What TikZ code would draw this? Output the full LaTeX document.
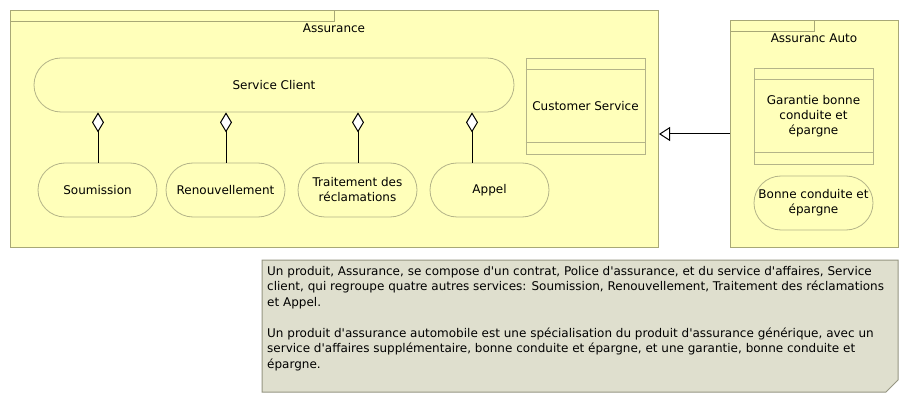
\documentclass[tikz,border=0pt]{standalone}
\usepackage{fontspec}
\setmainfont{DejaVu Sans}[Ligatures=TeXOff]
\usetikzlibrary{arrows.meta}
\definecolor{pkgfill}{RGB}{255,255,186}
\definecolor{pkgline}{RGB}{168,168,118}
\definecolor{elline}{RGB}{180,180,136}
\definecolor{notefill}{RGB}{223,223,206}
\definecolor{noteline}{RGB}{150,150,130}
\tikzset{
  pkg/.style={draw=pkgline, fill=pkgfill, line width=1pt, inner sep=0pt, anchor=north west},
  stadium/.style={draw=elline, fill=pkgfill, line width=0.8pt, rounded corners=27pt,
    minimum width=119pt, minimum height=54pt, inner sep=0pt, align=center,
    font=\fontsize{12}{15}\selectfont},
  compbox/.style={draw=elline, fill=pkgfill, line width=0.8pt,
    minimum width=119pt, minimum height=96pt, inner sep=0pt, align=center,
    font=\fontsize{12}{15}\selectfont},
  band/.style={draw=elline, line width=0.8pt},
  agg/.style={black, line width=1pt, {Diamond[length=20pt,width=12pt,fill=white,line width=1pt]}-},
  gen/.style={black, line width=1pt, -{Triangle[open,length=11pt,width=14pt,fill=white,line width=1pt]}},
  title/.style={font=\fontsize{12}{15}\selectfont, inner sep=0pt}
}
\begin{document}
\begin{tikzpicture}[x=1pt,y=-1pt]
\useasboundingbox (0,0) rectangle (909,403);
\fill[white] (0,0) rectangle (909,403);
% packages
\node[pkg, minimum width=648pt, minimum height=237pt] (assur) at (10,10) {};
\draw[pkgline, line width=1pt] (10,22) -- (334,22) -- (334,10);
\node[title] (assurt) at (334,28.5) {Assurance};
\node[pkg, minimum width=168pt, minimum height=227pt] (auto) at (730,20) {};
\draw[pkgline, line width=1pt] (730,32) -- (814,32) -- (814,20);
\node[title] (autot) at (814,38.5) {Assuranc Auto};
% elements in Assurance
\node[stadium, minimum width=480pt] (sc) at (274,85) {Service Client};
\node[stadium] (soum) at (97.5,190) {Soumission};
\node[stadium] (renou) at (225.5,190) {Renouvellement};
\node[stadium] (trait) at (357.5,190) {Traitement des\\réclamations};
\node[stadium] (appel) at (489.5,190) {Appel};
\node[compbox] (cs) at (585.5,106) {Customer Service};
\draw[band] ([yshift=-12pt]cs.north west) -- ([yshift=-12pt]cs.north east);
\draw[band] ([yshift=12pt]cs.south west) -- ([yshift=12pt]cs.south east);
% elements in Assuranc Auto
\node[compbox] (gar) at (813.5,116) {Garantie bonne\\conduite et\\épargne};
\draw[band] ([yshift=-12pt]gar.north west) -- ([yshift=-12pt]gar.north east);
\draw[band] ([yshift=12pt]gar.south west) -- ([yshift=12pt]gar.south east);
\node[stadium] (bce) at (813.5,203) {Bonne conduite et\\épargne};
% aggregations
\draw[agg] ([xshift=0.5pt]soum.north |- sc.south) -- ([xshift=0.5pt]soum.north);
\draw[agg] ([xshift=0.5pt]renou.north |- sc.south) -- ([xshift=0.5pt]renou.north);
\draw[agg] ([xshift=0.5pt]trait.north |- sc.south) -- ([xshift=0.5pt]trait.north);
\draw[agg] ([xshift=-17.5pt]appel.north |- sc.south) -- ([xshift=-17.5pt]appel.north);
% generalization
\coordinate (gy) at (0,134);
\draw[gen] (auto.west |- gy) -- (assur.east |- gy);
% note
\draw[noteline, fill=notefill, line width=1pt] (262,260) -- (898,260) -- (898,380) -- (886,392) -- (262,392) -- cycle;
\node[anchor=north west, inner sep=0pt, align=left, font=\fontsize{12}{15.5}\selectfont] (notet) at (267,266)
{Un produit, Assurance, se compose d'un contrat, Police d'assurance, et du service d'affaires, Service\\
client, qui regroupe quatre autres services: Soumission, Renouvellement, Traitement des réclamations\\
et Appel.\\[15.5pt]
Un produit d'assurance automobile est une spécialisation du produit d'assurance générique, avec un\\
service d'affaires supplémentaire, bonne conduite et épargne, et une garantie, bonne conduite et\\
épargne.};
\end{tikzpicture}
\end{document}
